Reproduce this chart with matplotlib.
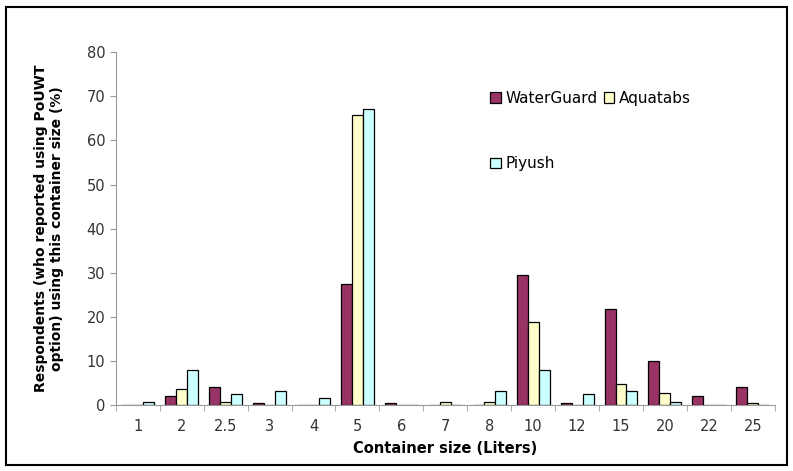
import numpy as np
import matplotlib
matplotlib.use('Agg')
import matplotlib.pyplot as plt
from matplotlib.patches import Rectangle

sizes = ['1', '2', '2.5', '3', '4', '5', '6', '7', '8', '10', '12', '15', '20', '22', '25']
waterguard = [0, 2.0, 4.0, 0.5, 0, 27.5, 0.5, 0, 0, 29.5, 0.5, 21.7, 9.9, 2.0, 4.0]
aquatabs = [0, 3.6, 0.8, 0, 0, 65.8, 0, 0.8, 0.8, 18.8, 0, 4.7, 2.8, 0, 0.5]
piyush = [0.8, 7.9, 2.4, 3.1, 1.5, 67.2, 0, 0, 3.1, 7.9, 2.4, 3.1, 0.8, 0, 0]

plt.rcParams['font.family'] = 'DejaVu Sans'

fig = plt.figure(figsize=(7.93, 4.71), dpi=100)
# border round the whole picture
fig.patches.append(Rectangle((0.008, 0.012), 0.984, 0.973, transform=fig.transFigure,
                             fill=False, edgecolor='black', linewidth=1.5))

ax = fig.add_axes([0.146, 0.140, 0.831, 0.749])
x = np.arange(len(sizes))
w = 0.25
b1 = ax.bar(x - w, waterguard, w, color='#993366', edgecolor='black', linewidth=0.9, label='WaterGuard')
b2 = ax.bar(x, aquatabs, w, color='#FFFFCC', edgecolor='black', linewidth=0.9, label='Aquatabs')
b3 = ax.bar(x + w, piyush, w, color='#CCFFFF', edgecolor='black', linewidth=0.9, label='Piyush')

ax.set_xlim(-0.5, len(sizes) - 0.5)
ax.set_ylim(0, 80)
ax.set_yticks(range(0, 81, 10))
ax.set_xticks(x)
ax.set_xticklabels(sizes)
ax.set_xticks(np.arange(-0.5, len(sizes), 1), minor=True)
ax.tick_params(axis='x', which='major', length=0, labelsize=10.5, pad=10, colors='#333333')
ax.tick_params(axis='x', which='minor', length=4, color='#999999', direction='out')
ax.tick_params(axis='y', length=4, color='#999999', labelsize=10.5, labelcolor='#333333')

for s in ['top', 'right']:
    ax.spines[s].set_visible(False)
ax.spines['left'].set_color('#999999')
ax.spines['bottom'].set_color('#999999')

ax.set_xlabel('Container size (Liters)', fontsize=10.5, fontweight='bold', labelpad=5)
ax.set_ylabel('Respondents (who reported using PoUWT\noption) using this container size (%)',
              fontsize=10, fontweight='bold', labelpad=16)

ax.legend(handles=[b1, b3, b2], ncol=2, frameon=False, fontsize=11,
          loc='upper left', bbox_to_anchor=(0.559, 0.908),
          handlelength=0.7, handleheight=0.7, handletextpad=0.3,
          columnspacing=0.4, labelspacing=3.3, borderaxespad=0)

fig.savefig('out.png', dpi=100)
